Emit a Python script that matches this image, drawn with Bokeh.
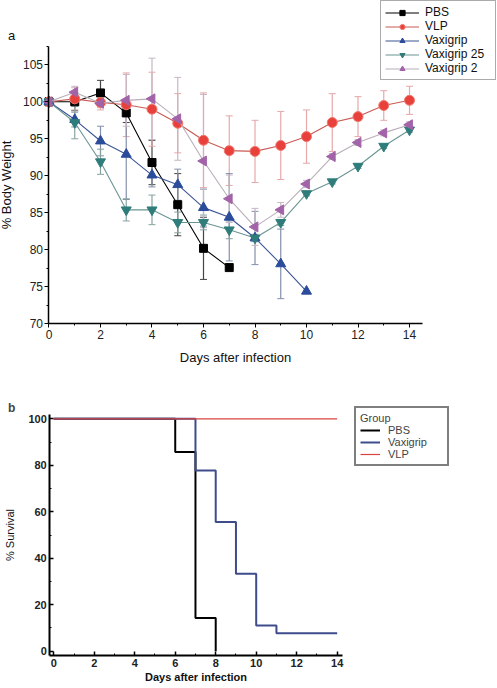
import math
from bokeh.plotting import figure
from bokeh.models import (ColumnDataSource, Whisker, TeeHead, Legend, LegendItem,
                          Label, FixedTicker, Range1d)
from bokeh.layouts import column
from bokeh.embed import file_html
from bokeh.resources import INLINE

# ---------------- data: panel a (body weight) ----------------
pbs_days = [0, 1, 2, 3, 4, 5, 6, 7]
pbs_wt = [100, 100.0, 101.2, 98.5, 91.8, 86.1, 80.2, 77.6]
pbs_err = [0, 1.2, 1.7, 1.3, 3.0, 4.2, 4.2, 0]

vlp_days = [0, 1, 2, 3, 4, 5, 6, 7, 8, 9, 10, 11, 12, 13, 14]
vlp_wt = [100, 100.4, 99.9, 99.6, 99.0, 97.1, 94.8, 93.4, 93.3, 94.1, 95.3, 97.2, 98.0, 99.5, 100.2]
vlp_err = [0, 1.5, 1.0, 4.3, 5.0, 4.0, 6.4, 4.7, 4.2, 4.6, 3.6, 3.9, 2.7, 2.0, 1.9]

vax_days = [0, 1, 2, 3, 4, 5, 6, 7, 8, 9, 10]
vax_wt = [100, 97.6, 94.7, 92.9, 90.1, 88.8, 85.7, 84.4, 81.6, 78.1, 74.4]
vax_err = [0, 1.0, 2.0, 6.1, 1.6, 2.1, 2.5, 5.9, 3.6, 4.7, 0]

v25_days = [0, 1, 2, 3, 4, 5, 6, 7, 8, 9, 10, 11, 12, 13, 14]
v25_wt = [100, 97.2, 91.9, 85.4, 85.4, 83.7, 83.7, 82.7, 81.6, 83.7, 87.6, 89.2, 91.3, 94.0, 96.2]
v25_err = [0, 2.2, 1.7, 1.5, 2.0, 1.4, 1.0, 1.2, 0.5, 0.4, 0.3, 0.3, 0.3, 0.3, 0.3]

v2_days = [0, 1, 2, 3, 4, 5, 6, 7, 8, 9, 10, 11, 12, 13, 14]
v2_wt = [100, 101.3, 99.8, 100.2, 100.4, 97.7, 92.0, 86.9, 83.1, 85.4, 88.9, 92.6, 94.5, 95.8, 96.9]
v2_err = [0, 0.8, 0.6, 3.5, 5.5, 5.6, 9.0, 3.2, 2.5, 1.0, 0.5, 0.4, 0.4, 0.4, 0.4]

# ---------------- data: panel b (survival) ----------------
surv_pbs_days = [0, 6, 7, 8]
surv_pbs = [100, 85.7, 14.3, 0]
surv_vax_days = [0, 7, 8, 9, 10, 11, 14]
surv_vax = [100, 77.8, 55.6, 33.3, 11.1, 7.7, 7.7]
surv_vlp_days = [0, 14]
surv_vlp = [100, 100]

x_ticks_a = [0, 2, 4, 6, 8, 10, 12, 14]
y_ticks_a = [70, 75, 80, 85, 90, 95, 100, 105]
x_ticks_b = [0, 2, 4, 6, 8, 10, 12, 14]
y_ticks_b = [0, 20, 40, 60, 80, 100]

FONT = "Liberation Sans"
W = 497
H1 = 388
H2 = 300

# ================= panel a =================
p1 = figure(width=W, height=H1, x_range=Range1d(-1.883, 17.417), y_range=Range1d(61.26, 113.69),
            output_backend="svg", toolbar_location=None,
            min_border_left=0, min_border_right=0, min_border_top=0, min_border_bottom=0)
p1.outline_line_color = None
p1.xgrid.visible = False
p1.ygrid.visible = False
p1.background_fill_color = "white"
p1.border_fill_color = "white"

for ax in (p1.xaxis[0], p1.yaxis[0]):
    ax.axis_line_width = 1.5
    ax.axis_line_color = "black"
    ax.major_tick_line_color = "black"
    ax.minor_tick_line_color = "black"
    ax.major_tick_out = 4
    ax.major_tick_in = 0
    ax.minor_tick_out = 2
    ax.minor_tick_in = 0
    ax.major_label_text_font = FONT
    ax.major_label_text_font_size = "12px"
    ax.major_label_text_color = "#222222"
    ax.axis_label_text_font = FONT
    ax.axis_label_text_font_size = "13px"
    ax.axis_label_text_font_style = "normal"
    ax.axis_label_text_color = "#111111"
    ax.major_label_standoff = 2

p1.xaxis.fixed_location = 70
p1.xaxis.bounds = (0, 14.5)
p1.yaxis.fixed_location = 0
p1.yaxis.bounds = (70, 107.5)
p1.xaxis.ticker = FixedTicker(ticks=x_ticks_a, minor_ticks=[1, 3, 5, 7, 9, 11, 13])
p1.yaxis.ticker = FixedTicker(ticks=y_ticks_a,
                              minor_ticks=[72.5, 77.5, 82.5, 87.5, 92.5, 97.5, 102.5, 107.5])
p1.xaxis.axis_label = "Days after infection"
p1.yaxis.axis_label = "% Body Weight"
p1.xaxis.axis_label_standoff = 8
p1.yaxis.axis_label_standoff = 5

series = [
    ("PBS", pbs_days, pbs_wt, pbs_err, "square", 8, "black", "black", "black", "#444444", 0.0),
    ("VLP", vlp_days, vlp_wt, vlp_err, "circle", 10, "#e8413c", "#f07a70", "#c95a55", "#e6a8a8", 0.0),
    ("Vaxigrip", vax_days, vax_wt, vax_err, "triangle", 10, "#2b4c9b", "#2b4c9b", "#3b5494", "#8390aa", 0.0),
    ("Vaxigrip 25", v25_days, v25_wt, v25_err, "inverted_triangle", 10, "#2f7d7a", "#2f7d7a", "#6a9593", "#86a3a1", 0.0),
    ("Vaxigrip 2", v2_days, v2_wt, v2_err, "triangle", 10, "#a263a8", "#a263a8", "#b8aeb8", "#c6b6c4", math.pi / 2),
]

# error bars first
for name, d, w, e, mk, sz, fc, lc, cl, ec, ang in series:
    xs = [d[i] for i in range(len(d)) if e[i] > 0]
    up = [w[i] + e[i] for i in range(len(d)) if e[i] > 0]
    lo = [w[i] - e[i] for i in range(len(d)) if e[i] > 0]
    src = ColumnDataSource(dict(x=xs, upper=up, lower=lo))
    wk = Whisker(source=src, base="x", upper="upper", lower="lower",
                 line_color=ec, line_width=1.2,
                 upper_head=TeeHead(size=7, line_color=ec, line_width=1),
                 lower_head=TeeHead(size=7, line_color=ec, line_width=1))
    p1.add_layout(wk)

items = []
for name, d, w, e, mk, sz, fc, lc, cl, ec, ang in series:
    src = ColumnDataSource(dict(x=d, y=w))
    lr = p1.line("x", "y", source=src, line_color=cl, line_width=1.1)
    sr = p1.scatter("x", "y", source=src, marker=mk, size=sz, fill_color=fc,
                    line_color=lc, line_width=1, angle=ang)
    items.append(LegendItem(label=name, renderers=[lr, sr]))

leg1 = Legend(items=items, location=(380, 308))
leg1.label_text_font = FONT
leg1.label_text_font_size = "12px"
leg1.label_text_color = "#111111"
leg1.glyph_width = 34
leg1.glyph_height = 13
leg1.label_height = 13
leg1.label_width = 66
leg1.spacing = 0
leg1.padding = 4
leg1.margin = 0
leg1.label_standoff = 6
leg1.border_line_color = "#555555"
leg1.border_line_width = 1
leg1.background_fill_color = "white"
leg1.background_fill_alpha = 1.0
p1.add_layout(leg1)

p1.add_layout(Label(x=-1.592, y=108.96, text="a", text_font=FONT, text_font_size="13px",
                    text_baseline="middle", text_align="left", text_color="#111111"))

# ================= panel b =================
p2 = figure(width=W, height=H2, x_range=Range1d(-2.633, 21.922), y_range=Range1d(-16.05, 113.04),
            output_backend="svg", toolbar_location=None,
            min_border_left=0, min_border_right=0, min_border_top=0, min_border_bottom=0)
p2.outline_line_color = None
p2.xgrid.visible = False
p2.ygrid.visible = False

for ax in (p2.xaxis[0], p2.yaxis[0]):
    ax.axis_line_width = 2
    ax.axis_line_color = "black"
    ax.major_tick_line_color = "black"
    ax.minor_tick_line_color = "black"
    ax.major_tick_line_width = 1.5
    ax.major_tick_out = 0
    ax.major_tick_in = 4
    ax.minor_tick_out = 0
    ax.minor_tick_in = 2
    ax.major_label_text_font = FONT
    ax.major_label_text_font_size = "11px"
    ax.major_label_text_font_style = "bold"
    ax.major_label_text_color = "#222222"
    ax.axis_label_text_font = FONT
    ax.axis_label_text_font_size = "11px"
    ax.axis_label_text_color = "#111111"
    ax.major_label_standoff = 3

p2.xaxis.fixed_location = -1.9
p2.xaxis.bounds = (-0.2, 14.25)
p2.yaxis.fixed_location = -0.2
p2.yaxis.bounds = (-1.9, 101.9)
p2.xaxis.ticker = FixedTicker(ticks=x_ticks_b, minor_ticks=[1, 3, 5, 7, 9, 11, 13])
p2.yaxis.ticker = FixedTicker(ticks=y_ticks_b, minor_ticks=[10, 30, 50, 70, 90])
p2.xaxis.axis_label = "Days after infection"
p2.xaxis.axis_label_text_font_style = "bold"
p2.yaxis.axis_label = "% Survival"
p2.yaxis.axis_label_text_font_style = "normal"
p2.xaxis.axis_label_standoff = 1
p2.yaxis.axis_label_standoff = 9

r_pbs = p2.step(surv_pbs_days, surv_pbs, mode="after", line_color="black", line_width=2)
r_vax = p2.step(surv_vax_days, surv_vax, mode="after", line_color="#3e4c8c", line_width=2)
r_vlp = p2.line(surv_vlp_days, surv_vlp, line_color="#d9443f", line_width=1.2)

leg2 = Legend(items=[LegendItem(label="PBS", renderers=[r_pbs]),
                     LegendItem(label="Vaxigrip", renderers=[r_vax]),
                     LegendItem(label="VLP", renderers=[r_vlp])],
              location=(354, 222), title="Group")
leg2.title_text_font = FONT
leg2.title_text_font_size = "11px"
leg2.title_text_font_style = "normal"
leg2.title_standoff = 0
leg2.label_text_font = FONT
leg2.label_text_font_size = "11px"
leg2.glyph_width = 20
leg2.glyph_height = 12
leg2.label_height = 12
leg2.label_width = 55
leg2.spacing = 0
leg2.padding = 4
leg2.margin = 0
leg2.label_standoff = 8
leg2.border_line_color = "black"
leg2.border_line_width = 2
leg2.background_fill_color = "white"
p2.add_layout(leg2)

p2.add_layout(Label(x=-2.263, y=104.86, text="b", text_font=FONT, text_font_size="12px",
                    text_font_style="bold", text_baseline="middle", text_align="left"))

layout = column(p1, p2, spacing=0)
open("out.html", "w").write(file_html(layout, INLINE))
